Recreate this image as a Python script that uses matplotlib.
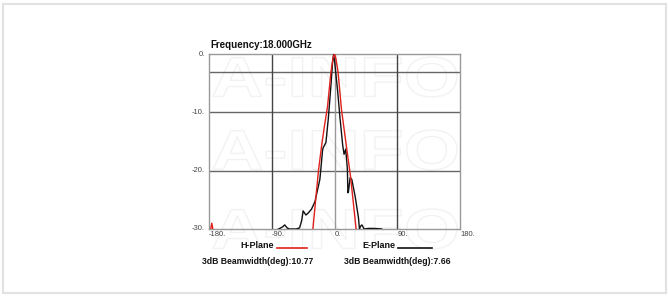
import matplotlib.pyplot as plt
import matplotlib.patches as mpatches
from matplotlib.textpath import TextPath
from matplotlib.font_manager import FontProperties
import matplotlib.transforms as mtransforms

# H-Plane (red) pattern, dB vs angle
h_angle = [-183, -179, -176, -173, -168, -40, -34, -31, -27, -23, -19, -15, -10, -5, -2, 0,
           2, 5, 10, 15, 19, 23, 27, 31, 34, 40, 180]
h_level = [-31, -31, -29.0, -31, -34, -34, -32.5, -30, -25, -20, -16.2, -12.8, -9, -3, -0.6, 0,
           -0.8, -3, -9.5, -14, -17.5, -21, -25.5, -30, -32.5, -34, -34]

# E-Plane (black) pattern, dB vs angle
e_angle = [-180, -95, -90, -80, -74, -71.5, -68, -65, -55, -50, -47, -45, -41, -38, -33,
           -28, -21, -17, -16, -12.3, -8.9, -5.1, -2.7, -1.2, 0.7, 4.6, 8, 11.8, 13.7,
           16.1, 18.5, 19.2, 20, 22.4, 24.8, 29.6, 34.4, 35.8, 37.5, 39.3, 42.6, 48.8,
           56, 68, 72, 180]
e_level = [-34, -34, -30.5, -30, -29.6, -29.3, -29.8, -30, -30, -29.8, -28.5, -26.9, -27.6,
           -27.3, -26.6, -25.3, -21.5, -16.4, -16, -15.2, -11.1, -5.4, -1.3, 0, -1.9,
           -6.5, -11.1, -15.7, -17.2, -16.3, -19.8, -23.8, -23.6, -21.2, -21.5, -24.4,
           -28.1, -30, -29.5, -29.3, -30, -29.9, -29.9, -30, -31, -34]

x_ticks = [-180, -90, 0, 90, 180]
y_ticks = [0, -10, -20, -30]
h_grid = [-3, -10, -20]
v_grid = [-90, 0, 90]

title = "Frequency:18.000GHz"
h_label = "H-Plane"
e_label = "E-Plane"
h_bw = "3dB Beamwidth(deg):10.77"
e_bw = "3dB Beamwidth(deg):7.66"

plt.rcParams['font.family'] = ['Liberation Sans', 'DejaVu Sans']

W, H = 668, 296
fig = plt.figure(figsize=(W / 100, H / 100), dpi=100)

# light outer frame
fig.add_artist(mpatches.Rectangle((3 / W, 1 - 293 / H), 663 / W, 289 / H,
                                  transform=fig.transFigure, fill=False,
                                  edgecolor='#e2e2e2', lw=1.5, zorder=-5))

# faint "A-INFO" watermark (outlined letters)
fp = FontProperties(family='Liberation Sans', weight='bold')
tp = TextPath((0, 0), "A-INFO", size=40, prop=fp)
ext = tp.get_extents()
for yc in [77, 150, 229]:
    sx = 244 / ext.width
    sy = 40 / ext.height
    tr = mtransforms.Affine2D().translate(-ext.x0, -ext.y0).scale(sx, sy).translate(213, H - yc - 20)
    patch = mpatches.PathPatch(tp, transform=tr, facecolor='none', edgecolor='#f2f2f2',
                               lw=1.0, zorder=-2)
    fig.add_artist(patch)

ax = fig.add_axes([209 / W, 1 - 229 / H, 251 / W, 175 / H])
ax.set_facecolor('none')
ax.set_xlim(-180, 180)
ax.set_ylim(-30, 0)

for g in h_grid:
    ax.axhline(g, color='#666666', lw=1.0, zorder=1)
for g in v_grid:
    ax.axvline(g, color='#999999' if g == 0 else '#444444', lw=1.0, zorder=1)

ax.plot(e_angle, e_level, color='#111111', lw=1.0, zorder=3)
ax.plot(h_angle, h_level, color='#e0201b', lw=1.0, zorder=4)

for s in ax.spines.values():
    s.set_color('#999999')
    s.set_linewidth(1.0)

ax.set_xticks([])
ax.set_yticks([])
for v in y_ticks:
    ax.text(-0.016, v, f"{v}.", transform=ax.get_yaxis_transform(), ha='right',
            va='center', fontsize=5.5, color='#444444')
for v in x_ticks:
    ax.text(v, -0.012, f"{v}.", transform=ax.get_xaxis_transform(), ha='left',
            va='top', fontsize=5.5, color='#444444')

ax.text(0.007, 1.02, title, transform=ax.transAxes, ha='left', va='bottom',
        fontsize=7, fontweight='bold', color='#111111')

# legend block under the plot
fig.text(274 / W, 1 - 246 / H, h_label, ha='right', va='center', fontsize=6.5,
         fontweight='bold', color='#111111')
fig.add_artist(plt.Line2D([277 / W, 307 / W], [1 - 247.5 / H] * 2, color='#e0201b', lw=1.2))
fig.text(395 / W, 1 - 246 / H, e_label, ha='right', va='center', fontsize=6.5,
         fontweight='bold', color='#111111')
fig.add_artist(plt.Line2D([398 / W, 432 / W], [1 - 247.5 / H] * 2, color='#111111', lw=1.2))
fig.text(202 / W, 1 - 261 / H, h_bw, ha='left', va='center', fontsize=6.2,
         fontweight='bold', color='#111111')
fig.text(344 / W, 1 - 261 / H, e_bw, ha='left', va='center', fontsize=6.2,
         fontweight='bold', color='#111111')

fig.savefig("out.png", dpi=100)
